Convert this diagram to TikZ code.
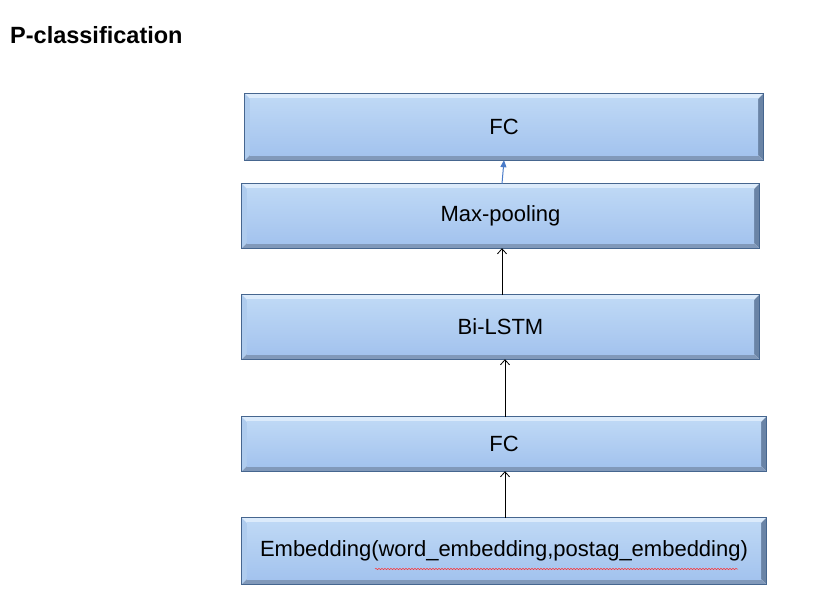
\documentclass[tikz,border=0pt]{standalone}
\usepackage{fontspec}
\setmainfont{Liberation Sans}
\usetikzlibrary{backgrounds,calc,decorations.pathmorphing,arrows.meta}
\pgfdeclarelayer{bottom}
\pgfsetlayers{bottom,background,main}
\definecolor{boxtop}{HTML}{BED8F5}
\definecolor{boxbot}{HTML}{A3C3EE}
\definecolor{bevlight}{HTML}{DCEBFB}
\definecolor{bevleft}{HTML}{AFCCEE}
\definecolor{bevright}{HTML}{6A84A6}
\definecolor{bevbot}{HTML}{8199BA}
\definecolor{boxedge}{HTML}{46668F}
\definecolor{arrblue}{HTML}{4A7CC9}
\tikzset{
  layerbox/.style={inner sep=0pt, minimum width=#1, font=\fontsize{22}{24}\selectfont},
  titletext/.style={inner sep=0pt, anchor=west, font=\fontsize{23.5}{26}\selectfont\bfseries},
  blackarrow/.style={-{Straight Barb[length=5pt,width=9pt,line width=0.8pt]}, black, line width=0.9pt},
  bluearrow/.style={-{Triangle[length=7pt,width=6pt]}, arrblue, line width=1pt},
  spellline/.style={red!80!white, line width=0.5pt, decorate, decoration={snake, amplitude=0.7pt, segment length=3pt}}
}
\newcommand{\bevelbox}[1]{%
  \begin{pgfonlayer}{background}
    \coordinate (nw) at (#1.north west);
    \coordinate (se) at (#1.south east);
    \coordinate (ne) at (#1.north east);
    \coordinate (sw) at (#1.south west);
    \coordinate (inw) at ($(nw)+(5pt,-5pt)$);
    \coordinate (ine) at ($(ne)+(-5pt,-5pt)$);
    \coordinate (ise) at ($(se)+(-5pt,5pt)$);
    \coordinate (isw) at ($(sw)+(5pt,5pt)$);
    \fill[bevlight] (nw) -- (ne) -- (ine) -- (inw) -- cycle;
    \fill[bevleft] (nw) -- (inw) -- (isw) -- (sw) -- cycle;
    \fill[bevright] (ne) -- (se) -- (ise) -- (ine) -- cycle;
    \fill[bevbot] (sw) -- (isw) -- (ise) -- (se) -- cycle;
    \shade[top color=boxtop, bottom color=boxbot] (inw) rectangle (ise);
    \draw[boxedge, line width=0.8pt] (nw) rectangle (se);
  \end{pgfonlayer}}
\begin{document}
\begin{tikzpicture}[x=1pt, y=-1pt]
\begin{pgfonlayer}{bottom}
\fill[white] (0,0) rectangle (838,607);
\end{pgfonlayer}
\useasboundingbox (0,0) rectangle (838,607);
\node[titletext] (title) at (10,35) {P-classification};
\node[layerbox=518pt, minimum height=66pt] (b1) at (504,127) {FC};
\node[layerbox=517pt, minimum height=64pt] (b2) at (500.5,216) {Max-pooling};
\node[layerbox=517pt, minimum height=64pt] (b3) at (500.5,327) {Bi-LSTM};
\node[layerbox=524pt, minimum height=54pt] (b4) at (504,444) {FC};
\node[layerbox=524pt, minimum height=66pt] (b5) at (504,551) {Embedding(word\_embedding,postag\_embedding)};
\bevelbox{b1}
\bevelbox{b2}
\bevelbox{b3}
\bevelbox{b4}
\bevelbox{b5}
\draw[spellline] ([xshift=-129pt,yshift=-18pt]b5.center) -- ([xshift=234pt,yshift=-18pt]b5.center);
\draw[bluearrow] ([xshift=1.5pt]b2.north) -- (b1.south);
\draw[blackarrow] ([xshift=1.5pt]b3.north) -- ([xshift=1.5pt]b2.south);
\draw[blackarrow] ([xshift=1pt]b4.north) -- ([xshift=4.5pt]b3.south);
\draw[blackarrow] ([xshift=1pt]b5.north) -- ([xshift=1pt]b4.south);
\end{tikzpicture}
\end{document}
